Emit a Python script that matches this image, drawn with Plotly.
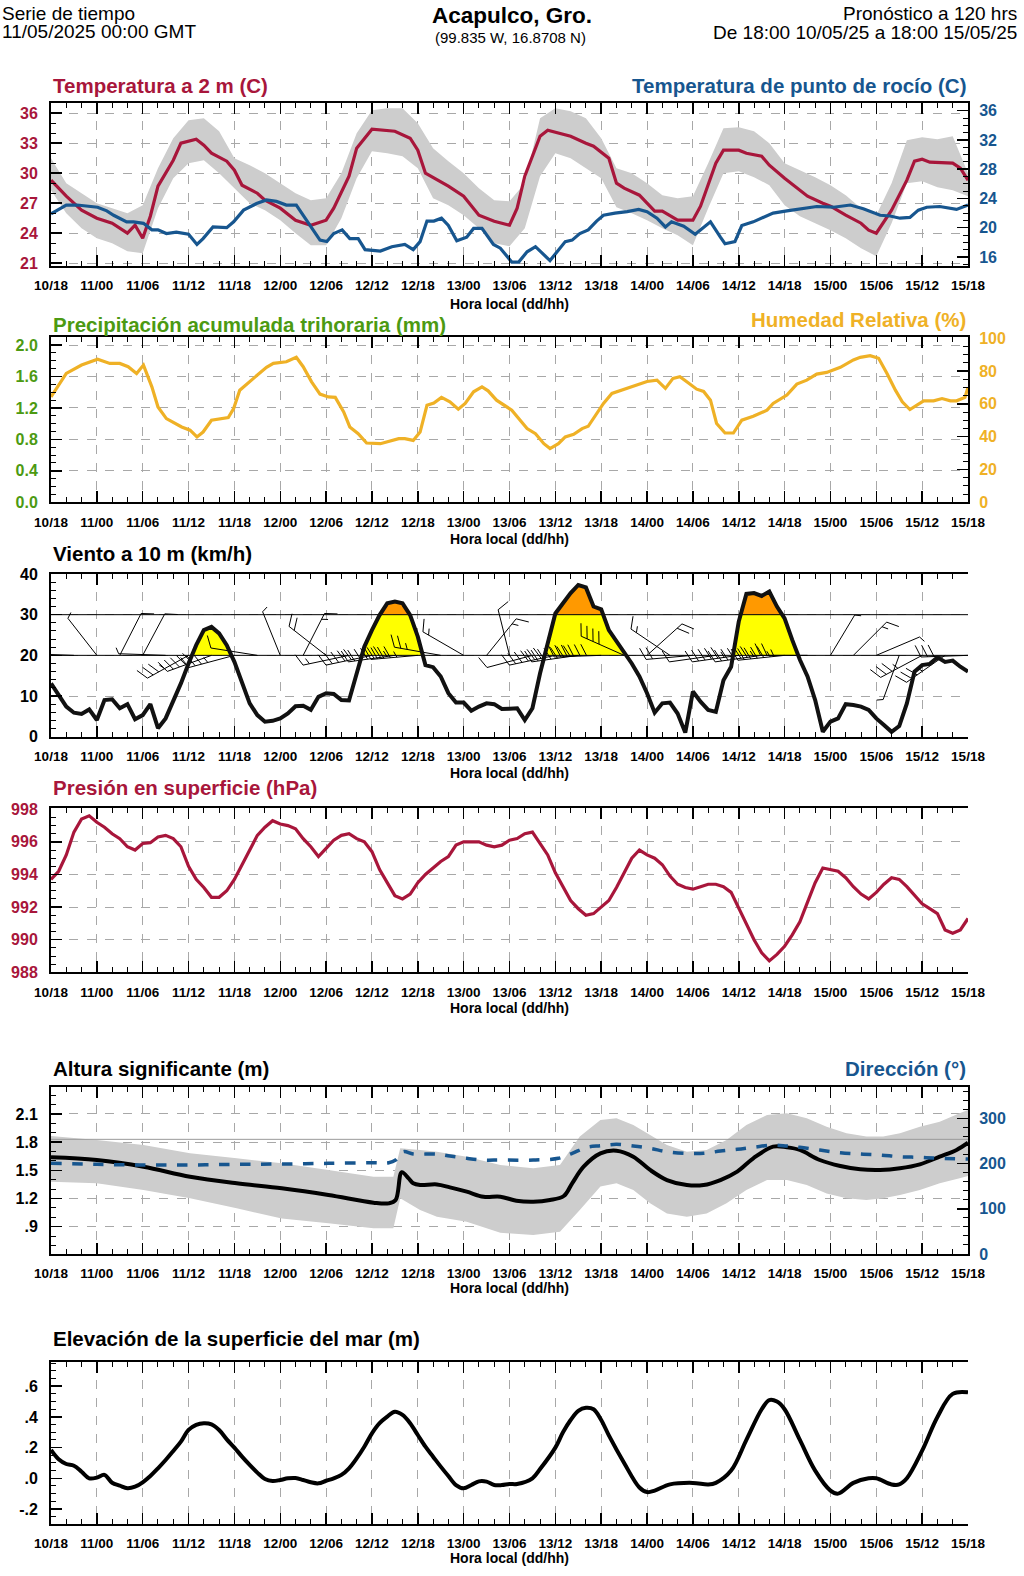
import numpy as np
import plotly.graph_objects as go

W, H = 1024, 1576
FONT = "Liberation Sans, Arial, Helvetica, sans-serif"

RED = "#a8163b"
BLUE = "#17568f"
HUM = "#efb126"
GREEN = "#4c9a12"
GRAYFILL = "#cdcdcd"

# ---------------- data ----------------
tick_hours = list(range(0, 121, 6))
tick_labels = ["10/18", "11/00", "11/06", "11/12", "11/18", "12/00", "12/06", "12/12",
               "12/18", "13/00", "13/06", "13/12", "13/18", "14/00", "14/06", "14/12",
               "14/18", "15/00", "15/06", "15/12", "15/18"]

# Temperatura a 2 m (C)
temp_h = [0, 2, 4, 6, 8, 10, 11, 12, 13, 14, 16, 17, 19, 20, 21, 23, 24, 25, 27, 28, 30, 32,
          34, 36, 37, 39, 40, 42, 45, 47, 48, 49, 52, 54, 56, 58, 60, 61, 62, 64, 65, 68, 70,
          71, 73, 74, 75, 77, 78, 79, 80, 82, 84, 85, 87, 88, 90, 91, 93, 94, 96, 98, 99, 101,
          102, 104, 106, 107, 108, 110, 112, 113, 114, 115, 117, 118, 119, 120]
temp = [29.3, 27.7, 26.3, 25.5, 25.0, 24.0, 24.8, 23.5, 25.7, 28.7, 31.3, 33.0, 33.4, 32.8,
        32.0, 31.2, 30.3, 28.8, 28.0, 27.3, 26.5, 25.3, 24.8, 25.3, 26.5, 29.7, 32.5, 34.4,
        34.2, 33.5, 32.3, 30.0, 28.7, 27.7, 25.8, 25.2, 24.8, 26.5, 29.7, 33.7, 34.3, 33.7,
        33.0, 32.7, 31.5, 29.0, 28.5, 27.8, 27.0, 26.2, 26.2, 25.3, 25.3, 26.7, 31.0, 32.3,
        32.3, 32.0, 31.7, 30.8, 29.5, 28.3, 27.7, 27.0, 26.7, 25.8, 25.0, 24.3, 24.0, 26.3,
        29.3, 31.2, 31.4, 31.1, 31.0, 31.0, 30.5, 29.3]
tband_h = list(range(0, 121, 2))
temp_hi = [31.5, 29.0, 28.0, 27.0, 26.5, 26.0, 26.8, 30.5, 33.5, 35.3, 35.5, 34.2, 31.5, 30.8,
           30.0, 29.0, 28.0, 27.3, 27.5, 30.0, 34.0, 36.3, 36.5, 36.5, 35.0, 32.5, 31.2, 30.0,
           28.5, 27.3, 27.2, 29.0, 35.5, 36.5, 36.2, 35.5, 33.5, 30.5, 30.0, 29.0, 27.8, 27.5,
           27.7, 31.0, 34.5, 34.6, 34.2, 33.0, 31.0, 30.3, 29.6, 28.8, 27.8, 26.5, 25.8, 29.0,
           33.3, 33.6, 33.4, 33.7, 30.0]
temp_lo = [28.3, 26.0, 24.5, 23.5, 23.0, 22.2, 22.0, 26.5, 29.5, 31.0, 31.3, 30.0, 28.5, 27.0,
           26.3, 25.3, 24.0, 22.8, 22.8, 25.5, 29.5, 32.2, 32.0, 31.7, 30.5, 27.5, 26.8, 25.8,
           24.5, 23.0, 22.7, 24.5, 29.7, 32.0, 31.5, 30.5, 29.5, 26.6, 26.0, 25.3, 24.5, 23.8,
           22.8, 26.5, 30.0, 30.2, 29.6, 28.8, 26.8, 25.7, 25.0, 24.3, 23.5, 22.5, 21.7, 25.0,
           29.0, 29.2, 28.6, 28.3, 27.7]

# Temperatura de punto de rocio (C)
dew_h = [0, 2.0, 3.4, 6.1, 7.3, 8.2, 9.9, 10.8, 12.1, 13.2, 14.0, 15.1, 16.4, 18.0, 19.1, 19.9,
         21.2, 23.0, 23.9, 25.2, 26.9, 28.2, 29.5, 30.8, 32.1, 33.0, 34.3, 35.2, 36.1, 37.0,
         38.1, 39.1, 40.2, 41.1, 43.1, 44.6, 46.3, 47.4, 48.3, 49.2, 50.1, 51.1, 52.0, 53.1,
         54.4, 55.3, 56.4, 57.9, 58.8, 60.3, 61.2, 62.3, 63.4, 65.3, 67.3, 68.2, 69.2, 70.3,
         71.4, 72.3, 73.8, 75.4, 76.9, 78.0, 79.3, 80.4, 81.2, 82.8, 84.3, 86.3, 87.6, 88.2,
         89.5, 90.4, 91.9, 93.7, 94.5, 96.3, 98.0, 100.2, 102.4, 104.6, 106.3, 108.5, 109.8,
         111.1, 112.4, 113.5, 114.6, 116.3, 118.5, 120.0]
dew = [21.9, 23.1, 23.1, 22.8, 22.3, 21.7, 20.8, 20.8, 20.6, 19.7, 19.7, 19.2, 19.4, 19.1,
       17.7, 18.5, 20.1, 20.0, 20.8, 22.4, 23.3, 23.8, 23.6, 23.1, 23.1, 21.7, 19.7, 18.3,
       18.1, 19.2, 19.7, 18.5, 18.5, 17.0, 16.8, 17.4, 17.7, 17.0, 18.1, 20.9, 20.9, 21.3,
       20.3, 18.2, 18.7, 19.9, 19.9, 17.7, 17.2, 15.3, 15.3, 16.7, 17.4, 15.5, 18.1, 18.3,
       19.2, 19.7, 20.9, 21.7, 22.0, 22.2, 22.5, 22.2, 21.3, 20.1, 20.8, 20.2, 19.1, 20.8,
       18.7, 17.8, 18.1, 20.3, 20.8, 21.6, 22.0, 22.3, 22.6, 22.9, 22.8, 23.1, 22.6, 21.7,
       21.6, 21.3, 21.4, 22.4, 22.8, 22.9, 22.5, 23.1]

# Precipitacion acumulada trihoraria (mm): no rain in the forecast
precip_h = [0, 3, 6, 9, 12, 15, 18, 21, 24, 27, 30, 33, 36, 39, 42, 45, 48, 51, 54, 57, 60,
            63, 66, 69, 72, 75, 78, 81, 84, 87, 90, 93, 96, 99, 102, 105, 108, 111, 114, 117,
            120]
precip = [0.0, 0.0, 0.0, 0.0, 0.0, 0.0, 0.0, 0.0, 0.0, 0.0, 0.0, 0.0, 0.0, 0.0, 0.0, 0.0, 0.0,
          0.0, 0.0, 0.0, 0.0, 0.0, 0.0, 0.0, 0.0, 0.0, 0.0, 0.0, 0.0, 0.0, 0.0, 0.0, 0.0, 0.0,
          0.0, 0.0, 0.0, 0.0, 0.0, 0.0, 0.0]

# Humedad relativa (%)
rh_h = [0, 2.0, 4.0, 6.1, 7.7, 9.0, 10.1, 11.2, 12.1, 13.2, 14.0, 15.1, 17.1, 18.2, 19.1, 19.9,
        21.0, 22.1, 23.2, 23.9, 24.7, 26.5, 28.2, 29.1, 30.8, 32.1, 33.0, 34.1, 35.2, 36.3,
        37.2, 38.3, 39.1, 40.2, 41.3, 43.1, 44.2, 45.5, 46.3, 47.4, 48.3, 49.2, 50.1, 51.1,
        52.2, 53.3, 54.2, 55.3, 56.4, 57.2, 58.3, 60.3, 62.3, 63.4, 64.5, 65.3, 66.4, 67.3,
        68.4, 69.5, 70.3, 71.4, 72.3, 73.4, 74.9, 76.7, 78.0, 79.3, 80.4, 81.4, 82.3, 83.2,
        84.5, 85.4, 86.3, 87.1, 88.2, 89.3, 90.4, 91.9, 93.7, 94.5, 96.3, 97.6, 98.9, 100.2,
        101.5, 103.3, 105.0, 105.9, 107.2, 108.3, 109.4, 110.5, 111.4, 112.4, 114.2, 115.5,
        116.6, 117.7, 118.5, 119.6, 120.0]
rh = [64.2, 78.5, 83.6, 87.1, 84.6, 84.6, 82.6, 78.5, 83.6, 70.3, 58.1, 51.0, 45.9, 43.9,
      39.8, 42.8, 50.0, 51.0, 51.6, 57.1, 68.3, 75.5, 82.2, 84.6, 85.6, 88.3, 82.6, 73.4,
      65.9, 64.2, 63.9, 55.0, 45.9, 41.8, 36.1, 35.7, 37.1, 38.8, 38.8, 37.7, 42.8, 59.1,
      60.5, 63.9, 61.2, 56.7, 60.2, 67.3, 70.3, 67.9, 62.2, 56.1, 44.9, 41.8, 35.7, 32.7,
      35.7, 39.8, 41.4, 44.9, 46.3, 54.1, 60.2, 66.3, 68.7, 72.0, 73.6, 74.4, 69.4, 75.5,
      76.5, 73.4, 68.9, 67.5, 62.2, 48.0, 42.2, 42.2, 50.0, 52.4, 56.1, 60.2, 65.3, 72.0,
      74.4, 78.1, 79.1, 82.2, 86.7, 88.3, 89.3, 87.7, 78.5, 68.3, 61.2, 56.5, 61.8, 61.8,
      63.2, 61.8, 61.8, 63.9, 70.0]

# Viento a 10 m (km/h), hourly
wind_h = list(range(0, 121))
wind = [13.1, 10.3, 7.4, 5.9, 5.6, 6.7, 4.1, 9.0, 9.2, 7.0, 8.0, 4.3, 5.3, 8.0, 2.1, 4.5, 8.6,
        13.1, 18.0, 22.5, 26.2, 27.0, 25.4, 22.5, 18.4, 13.1, 8.2, 5.3, 3.7, 3.9, 4.5, 5.7, 7.5,
        7.6, 6.6, 9.8, 10.7, 10.5, 9.0, 8.9, 15.2, 22.1, 26.2, 29.9, 32.8, 33.2, 32.8, 29.9,
        24.6, 17.6, 17.1, 14.8, 10.7, 8.4, 8.4, 6.4, 7.4, 8.2, 8.0, 6.8, 6.9, 7.0, 4.1, 7.0,
        15.6, 23.0, 30.3, 32.8, 35.3, 37.3, 36.7, 32.0, 31.3, 26.2, 23.4, 20.9, 18.0, 14.8,
        10.7, 5.9, 8.2, 8.4, 5.7, 1.0, 11.1, 8.6, 6.6, 6.1, 13.9, 17.2, 28.3, 35.1, 35.3, 34.6,
        35.7, 32.0, 29.1, 23.8, 18.9, 14.8, 9.0, 1.2, 3.7, 4.5, 8.0, 7.8, 7.4, 6.6, 4.5, 2.9,
        1.2, 2.6, 8.2, 16.0, 17.6, 17.9, 19.5, 18.4, 18.7, 17.2, 16.0]
# wind barbs every 3 h: direction the wind blows from (deg)
barb_h = list(range(0, 121, 3))
barb_dir = [275, 272, 322, 27, 28, 272, 241, 250, 255, 279, 338, 27, 308, 258, 258, 262, 265,
            280, 300, 39, 346, 255, 258, 262, 268, 294, 48, 304, 265, 262, 262, 262, 264, 270,
            31, 45, 67, 200, 242, 235, 268]

# Presion en superficie (hPa), hourly
pres_h = list(range(0, 121))
pres = [993.7, 994.2, 995.2, 996.6, 997.4, 997.6, 997.2, 996.9, 996.5, 996.2, 995.7, 995.5,
        995.9, 995.95, 996.3, 996.4, 996.2, 995.7, 994.5, 993.7, 993.2, 992.6, 992.6, 993.0,
        993.7, 994.6, 995.5, 996.4, 996.9, 997.3, 997.1, 997.0, 996.8, 996.2, 995.7, 995.1,
        995.6, 996.1, 996.4, 996.5, 996.2, 996.0, 995.4, 994.3, 993.5, 992.7, 992.5, 992.8,
        993.5, 994.0, 994.4, 994.8, 995.1, 995.8, 996.0, 996.0, 996.0, 995.8, 995.7, 995.8,
        996.1, 996.2, 996.5, 996.6, 995.9, 995.2, 994.1, 993.2, 992.4, 991.9, 991.5, 991.6,
        992.0, 992.4, 993.2, 994.1, 995.0, 995.5, 995.2, 995.0, 994.6, 993.9, 993.4, 993.2,
        993.1, 993.25, 993.4, 993.4, 993.25, 992.9, 991.9, 991.0, 990.0, 989.2, 988.7, 989.1,
        989.6, 990.3, 991.1, 992.3, 993.5, 994.4, 994.3, 994.2, 993.8, 993.25, 992.8, 992.5,
        992.9, 993.4, 993.8, 993.7, 993.25, 992.7, 992.2, 991.9, 991.6, 990.6, 990.4, 990.6,
        991.3]

# Altura significante (m)
hs_h = [0, 6.0, 12.1, 18.2, 24.3, 30.2, 36.3, 42.2, 44.2, 45.1, 45.9, 46.8, 47.4, 48.3, 50.5,
        52.2, 54.4, 56.6, 58.8, 60.9, 63.1, 65.3, 67.1, 68.2, 69.7, 71.9, 74.0, 76.2, 78.4,
        80.6, 83.2, 85.4, 87.6, 89.8, 91.9, 94.5, 96.3, 98.0, 100.6, 103.3, 105.9, 108.5,
        111.1, 113.7, 116.3, 118.5, 120.0]
hs = [1.639, 1.61, 1.539, 1.432, 1.362, 1.309, 1.238, 1.156, 1.149, 1.184, 1.48, 1.415, 1.362,
      1.344, 1.35, 1.319, 1.273, 1.219, 1.219, 1.177, 1.166, 1.184, 1.227, 1.362, 1.539, 1.681,
      1.709, 1.645, 1.504, 1.397, 1.344, 1.344, 1.397, 1.486, 1.628, 1.752, 1.745, 1.717,
      1.61, 1.546, 1.511, 1.504, 1.522, 1.564, 1.645, 1.717, 1.794]
hsb_h = [0, 6.0, 12.1, 18.2, 24.3, 30.2, 36.3, 42.2, 44.8, 45.7, 48.3, 50.5, 54.4, 58.8, 63.1,
         66.6, 69.2, 71.9, 74.0, 76.2, 78.4, 80.6, 83.2, 85.8, 88.4, 91.0, 93.7, 96.3, 98.9,
         101.5, 104.1, 106.7, 108.9, 111.1, 113.7, 116.3, 118.9, 120.0]
hs_hi = [1.866, 1.823, 1.77, 1.681, 1.628, 1.575, 1.504, 1.432, 1.432, 1.735, 1.717, 1.699,
         1.645, 1.557, 1.522, 1.557, 1.859, 2.036, 2.054, 1.983, 1.876, 1.77, 1.699, 1.717,
         1.823, 1.983, 2.089, 2.107, 2.054, 1.965, 1.894, 1.859, 1.859, 1.894, 1.965, 2.018,
         2.107, 2.143]
hs_lo = [1.379, 1.362, 1.29, 1.202, 1.096, 0.989, 0.936, 0.883, 0.883, 1.202, 1.078, 1.007,
         0.953, 0.836, 0.811, 0.847, 1.078, 1.327, 1.362, 1.29, 1.149, 1.042, 1.007, 1.042,
         1.149, 1.29, 1.397, 1.397, 1.344, 1.255, 1.202, 1.184, 1.202, 1.238, 1.29, 1.362,
         1.415, 1.44]
# Direccion (deg)
dir_h = [0, 6.0, 12.1, 18.2, 24.3, 30.2, 36.3, 42.2, 44.2, 45.1, 46.1, 47.4, 50.5, 52.2, 54.4,
         56.6, 58.8, 63.1, 66.4, 68.2, 70.1, 71.9, 74.0, 76.2, 78.4, 80.6, 83.2, 85.4, 87.6,
         89.8, 91.9, 94.5, 96.3, 98.0, 100.6, 103.3, 105.9, 108.5, 111.1, 113.7, 116.3, 120.0]
wdir = [200.5, 198.3, 196.8, 196.8, 198.3, 199.0, 200.5, 201.9, 201.9, 207.8, 226.2, 221.1,
        221.1, 216.7, 211.6, 207.8, 207.8, 207.8, 211.6, 222.6, 235.9, 239.4, 242.5, 238.8,
        233.7, 226.2, 222.6, 222.6, 227.7, 231.5, 235.9, 241.0, 238.8, 235.9, 229.9, 224.0,
        221.1, 218.9, 215.1, 213.8, 211.6, 210.0]

# Elevacion de la superficie del mar (m)
ssh_h = list(range(0, 62)) + [63, 64, 66, 67, 68, 69, 70, 71, 72, 73, 75, 77, 78, 79, 81, 84,
                                86, 87, 89, 91, 93, 94, 95, 96, 98, 100, 102, 103, 105, 107,
                                108, 110, 111, 112, 114, 116, 118, 120]
ssh = [0.185, 0.124, 0.093, 0.082, 0.043, 0.0, 0.004, 0.022, -0.029, -0.048, -0.065, -0.055,
       -0.026, 0.015, 0.065, 0.119, 0.178, 0.239, 0.315, 0.348, 0.359, 0.352, 0.315, 0.254,
       0.2, 0.141, 0.087, 0.037, -0.005, -0.018, -0.011, 0.0, 0.002, -0.011, -0.026, -0.033,
       -0.016, 0.0, 0.022, 0.065, 0.13, 0.206, 0.293, 0.359, 0.402, 0.434, 0.413, 0.359,
       0.282, 0.206, 0.141, 0.076, 0.015, -0.044, -0.065, -0.044, -0.02, -0.022, -0.044,
       -0.044, -0.037, -0.037,
       0.0, 0.06, 0.2, 0.3, 0.38, 0.44, 0.46, 0.45, 0.38, 0.28, 0.1, -0.06, -0.09, -0.08, -0.04,
       -0.03, -0.04, -0.03, 0.05, 0.25, 0.45, 0.51, 0.5, 0.45, 0.25, 0.05, -0.08, -0.1, -0.03,
       0.0, 0.0, -0.04, -0.04, 0.0, 0.18, 0.4, 0.55, 0.56]

# ---------------- layout geometry (pixels) ----------------
X0, X1 = 51, 968
panels = [(102.7, 265.7), (337.3, 502.3), (574.0, 736.7), (808.3, 972.3), (1086.7, 1254.0),
          (1361.7, 1524.0)]
yranges_left = [[20.75, 37.05], [0, 2.098], [0, 40], [988, 998.06], [0.61, 2.39], [-0.298, 0.76]]
yranges_right = [[14.8, 37.1], [0, 100.5], [0, 40], [988, 998.06], [0, 370], [-0.298, 0.76]]
left_ticks = [[21, 24, 27, 30, 33, 36], [0, 0.4, 0.8, 1.2, 1.6, 2.0], [0, 10, 20, 30, 40],
              [988, 990, 992, 994, 996, 998], [0.9, 1.2, 1.5, 1.8, 2.1], [-0.2, 0, 0.2, 0.4, 0.6]]
left_text = [None, ["0.0", "0.4", "0.8", "1.2", "1.6", "2.0"], None, None,
             [".9", "1.2", "1.5", "1.8", "2.1"], ["-.2", ".0", ".2", ".4", ".6"]]
left_minor = [1, 0.1, 2, 0.5, 0.1, 0.05]
right_ticks = [[16, 20, 24, 28, 32, 36], [0, 20, 40, 60, 80, 100], [0, 10, 20, 30, 40],
               [988, 990, 992, 994, 996, 998], [0, 100, 200, 300], [-0.2, 0, 0.2, 0.4, 0.6]]
right_text = [None, None, None, None, None, ["-.2", ".0", ".2", ".4", ".6"]]
right_minor = [1, 5, 2, 0.5, 20, 0.05]
left_col = [RED, GREEN, "black", RED, "black", "black"]
right_col = [BLUE, HUM, "black", RED, BLUE, "black"]
left_grid = [True, True, True, True, True, False]


def py(p):
    return 1 - p / H


def px(p):
    return p / W


fig = go.Figure()
layout = dict(width=W, height=H, margin=dict(l=0, r=0, t=0, b=0, pad=0, autoexpand=False),
              paper_bgcolor="white", plot_bgcolor="rgba(0,0,0,0)", showlegend=False,
              font=dict(family=FONT))

minor_x = [h for h in range(0, 121, 2) if h % 6 != 0]

for k, (top, bot) in enumerate(panels):
    xa = f"xaxis{k + 1}"
    yl = f"yaxis{2 * k + 1}"
    yr = f"yaxis{2 * k + 2}"
    dom = [py(bot), py(top)]
    layout[xa] = dict(domain=[px(X0), px(X1)], range=[0, 120], anchor=f"y{2 * k + 1}",
                      tickmode="array", tickvals=tick_hours, ticktext=tick_labels,
                      ticks="inside", ticklen=11, tickwidth=1.5, tickcolor="black",
                      showline=True, linewidth=2, linecolor="black", mirror="ticks",
                      showgrid=True, gridcolor="#a8a8a8", griddash="dash", gridwidth=1,
                      minor=dict(tickvals=minor_x, ticks="inside", ticklen=5, tickwidth=1,
                                 tickcolor="black", showgrid=False),
                      tickfont=dict(family=FONT, size=13.5, color="black", weight="bold"),
                      ticklabelstandoff=6, zeroline=False, fixedrange=True, automargin=False)
    lmin = left_minor[k]
    lr = yranges_left[k]
    lmv = [round(v, 4) for v in np.arange(np.ceil(lr[0] / lmin) * lmin, lr[1] + 1e-9, lmin)]
    layout[yl] = dict(domain=dom, range=lr, anchor=f"x{k + 1}", tickmode="array",
                      tickvals=left_ticks[k],
                      ticks="inside", ticklen=11, tickwidth=1.5, tickcolor="black",
                      showline=True, linewidth=2, linecolor="black", mirror=False,
                      showgrid=left_grid[k], gridcolor="#a8a8a8", griddash="dash", gridwidth=1,
                      minor=dict(tickvals=lmv, ticks="inside", ticklen=5, tickwidth=1,
                                 tickcolor="black", showgrid=False),
                      tickfont=dict(family=FONT, size=16, color=left_col[k], weight="bold"),
                      ticklabelstandoff=8, zeroline=False, fixedrange=True, automargin=False)
    if left_text[k] is not None:
        layout[yl]["ticktext"] = left_text[k]
    rmin = right_minor[k]
    rr = yranges_right[k]
    rmv = [round(v, 4) for v in np.arange(np.ceil(rr[0] / rmin) * rmin, rr[1] + 1e-9, rmin)]
    layout[yr] = dict(domain=dom, range=rr, anchor=f"x{k + 1}", overlaying=f"y{2 * k + 1}",
                      side="right", tickmode="array", tickvals=right_ticks[k],
                      ticks="inside", ticklen=11, tickwidth=1.5, tickcolor="black",
                      showline=True, linewidth=2, linecolor="black",
                      showgrid=False,
                      minor=dict(tickvals=rmv, ticks="inside", ticklen=5, tickwidth=1,
                                 tickcolor="black", showgrid=False),
                      tickfont=dict(family=FONT, size=16, color=right_col[k], weight="bold"),
                      ticklabelstandoff=6, zeroline=False, fixedrange=True, automargin=False)
    if right_text[k] is not None:
        layout[yr]["ticktext"] = right_text[k]


def add(tr, k, right=False):
    tr.update(xaxis=f"x{k + 1}", yaxis=f"y{2 * k + 2}" if right else f"y{2 * k + 1}")
    fig.add_trace(tr)


# Panel 1: temperature band + lines
add(go.Scatter(x=tband_h, y=temp_lo, mode="lines", line=dict(width=0), hoverinfo="skip"), 0)
add(go.Scatter(x=tband_h, y=temp_hi, mode="lines", line=dict(width=0), fill="tonexty",
               fillcolor=GRAYFILL, hoverinfo="skip"), 0)
add(go.Scatter(x=temp_h, y=temp, mode="lines", line=dict(color=RED, width=3.2)), 0)
add(go.Scatter(x=dew_h, y=dew, mode="lines", line=dict(color=BLUE, width=3.2)), 0, right=True)

# Panel 2: precipitation (zero, hidden under the axis) + humidity
add(go.Scatter(x=precip_h, y=precip, mode="lines", line=dict(color=GREEN, width=0)), 1)
add(go.Scatter(x=rh_h, y=rh, mode="lines", line=dict(color=HUM, width=3.2)), 1, right=True)


# Panel 3: wind
def with_crossings(x, y, levels):
    xs, ys = [x[0]], [y[0]]
    for i in range(1, len(x)):
        x0, y0, x1, y1 = x[i - 1], y[i - 1], x[i], y[i]
        cr = []
        for L in levels:
            if (y0 - L) * (y1 - L) < 0:
                t = (L - y0) / (y1 - y0)
                cr.append((x0 + t * (x1 - x0), L))
        cr.sort(key=lambda p: p[0])
        for p in cr:
            xs.append(p[0])
            ys.append(p[1])
        xs.append(x1)
        ys.append(y1)
    return np.array(xs), np.array(ys)


wx, wy = with_crossings(wind_h, wind, [20, 30])
add(go.Scatter(x=wx, y=np.full(len(wx), 20.0), mode="lines", line=dict(width=0),
               hoverinfo="skip"), 2)
add(go.Scatter(x=wx, y=np.clip(wy, 20, 30), mode="lines", line=dict(width=0), fill="tonexty",
               fillcolor="#ffff00", hoverinfo="skip"), 2)
add(go.Scatter(x=wx, y=np.full(len(wx), 30.0), mode="lines", line=dict(width=0),
               hoverinfo="skip"), 2)
add(go.Scatter(x=wx, y=np.clip(wy, 30, None), mode="lines", line=dict(width=0), fill="tonexty",
               fillcolor="#ff9900", hoverinfo="skip"), 2)
for lev in (20, 30):
    add(go.Scatter(x=[0, 120], y=[lev, lev], mode="lines", line=dict(color="black", width=1),
                   hoverinfo="skip"), 2)

# wind barbs (pixel geometry converted to data units)
p3top, p3bot = panels[2]
ppx = (X1 - X0) / 120.0
ppy = (p3bot - p3top) / 40.0
bx, by = [], []
STAFF, TICK, SP = 47.0, 13.0, 6.5
wind_arr = np.array(wind)
for t, d in zip(barb_h, barb_dir):
    spd = wind_arr[t]
    a = np.deg2rad(d)
    ux, uy = np.sin(a), np.cos(a)
    bx += [t, t + STAFF * ux / ppx, None]
    by += [20, 20 + STAFF * uy / ppy, None]
    nfull = int(spd // 5)
    half = (spd % 5) >= 2.5
    ang = a + np.deg2rad(65)
    tx, ty = np.sin(ang), np.cos(ang)
    for j in range(nfull + (1 if half else 0)):
        dist = STAFF - j * SP
        sx = t + dist * ux / ppx
        sy = 20 + dist * uy / ppy
        ln = TICK if j < nfull else TICK / 2
        bx += [sx, sx + ln * tx / ppx, None]
        by += [sy, sy + ln * ty / ppy, None]
add(go.Scatter(x=bx, y=by, mode="lines", line=dict(color="black", width=1), hoverinfo="skip"),
    2)
add(go.Scatter(x=wind_h, y=wind, mode="lines", line=dict(color="#111111", width=4)), 2)

# Panel 4: pressure
add(go.Scatter(x=pres_h, y=pres, mode="lines", line=dict(color=RED, width=3.2)), 3)

# Panel 5: waves
add(go.Scatter(x=hsb_h, y=hs_lo, mode="lines", line=dict(width=0), hoverinfo="skip"), 4)
add(go.Scatter(x=hsb_h, y=hs_hi, mode="lines", line=dict(width=0), fill="tonexty",
               fillcolor=GRAYFILL, hoverinfo="skip"), 4)
add(go.Scatter(x=[0, 120], y=[1.83, 1.83], mode="lines", line=dict(color="#999999", width=1),
               hoverinfo="skip"), 4)
add(go.Scatter(x=hs_h, y=hs, mode="lines", line=dict(color="black", width=4, shape="spline")), 4)
add(go.Scatter(x=dir_h, y=wdir, mode="lines",
               line=dict(color=BLUE, width=3.5, dash="dash", shape="spline")), 4, right=True)

# Panel 6: sea level
add(go.Scatter(x=ssh_h, y=ssh, mode="lines", line=dict(color="black", width=4, shape="spline")), 5)

# ---------------- annotations ----------------
ann = []


def text(x, y, s, size, color="black", bold=False, xanchor="left", yanchor="middle"):
    ann.append(dict(x=px(x), y=py(y), xref="paper", yref="paper", text=s, showarrow=False,
                    xanchor=xanchor, yanchor=yanchor,
                    font=dict(family=FONT, size=size, color=color,
                              weight="bold" if bold else "normal")))


text(0, 0.5, "Serie de tiempo", 19, yanchor="top")
text(0, 31, "11/05/2025 00:00 GMT", 19)
text(512, 0.5, "Acapulco, Gro.", 22.5, bold=True, xanchor="center", yanchor="top")
text(510, 37, "(99.835 W, 16.8708 N)", 15, xanchor="center")
text(1019, 0.5, "Pronóstico a 120 hrs", 19, xanchor="right", yanchor="top")
text(1019, 33, "De 18:00 10/05/25 a 18:00 15/05/25", 19, xanchor="right")

text(X0, 85, "Temperatura a 2 m (C)", 20.5, RED, True)
text(X1, 85, "Temperatura de punto de rocío (C)", 20.5, BLUE, True, "right")
text(X0, 324, "Precipitación acumulada trihoraria (mm)", 20.5, GREEN, True)
text(X1, 319, "Humedad Relativa (%)", 20.5, HUM, True, "right")
text(X0, 553, "Viento a 10 m (km/h)", 20.5, "black", True)
text(X0, 787, "Presión en superficie (hPa)", 20.5, RED, True)
text(X0, 1068, "Altura significante (m)", 20.5, "black", True)
text(X1, 1068, "Dirección (°)", 20.5, BLUE, True, "right")
text(X0, 1338, "Elevación de la superficie del mar (m)", 20.5, "black", True)

for yy in (304, 539, 773, 1008, 1288, 1558):
    text(509, yy, "Hora local (dd/hh)", 14, "black", True, "center")

layout["annotations"] = ann
fig.update_layout(**layout)
fig.write_html("out.html", config={"displayModeBar": False, "staticPlot": True},
               post_script="document.body.style.margin='0px';"
                           "document.body.style.padding='0px';"
                           "document.documentElement.style.overflow='hidden';")
